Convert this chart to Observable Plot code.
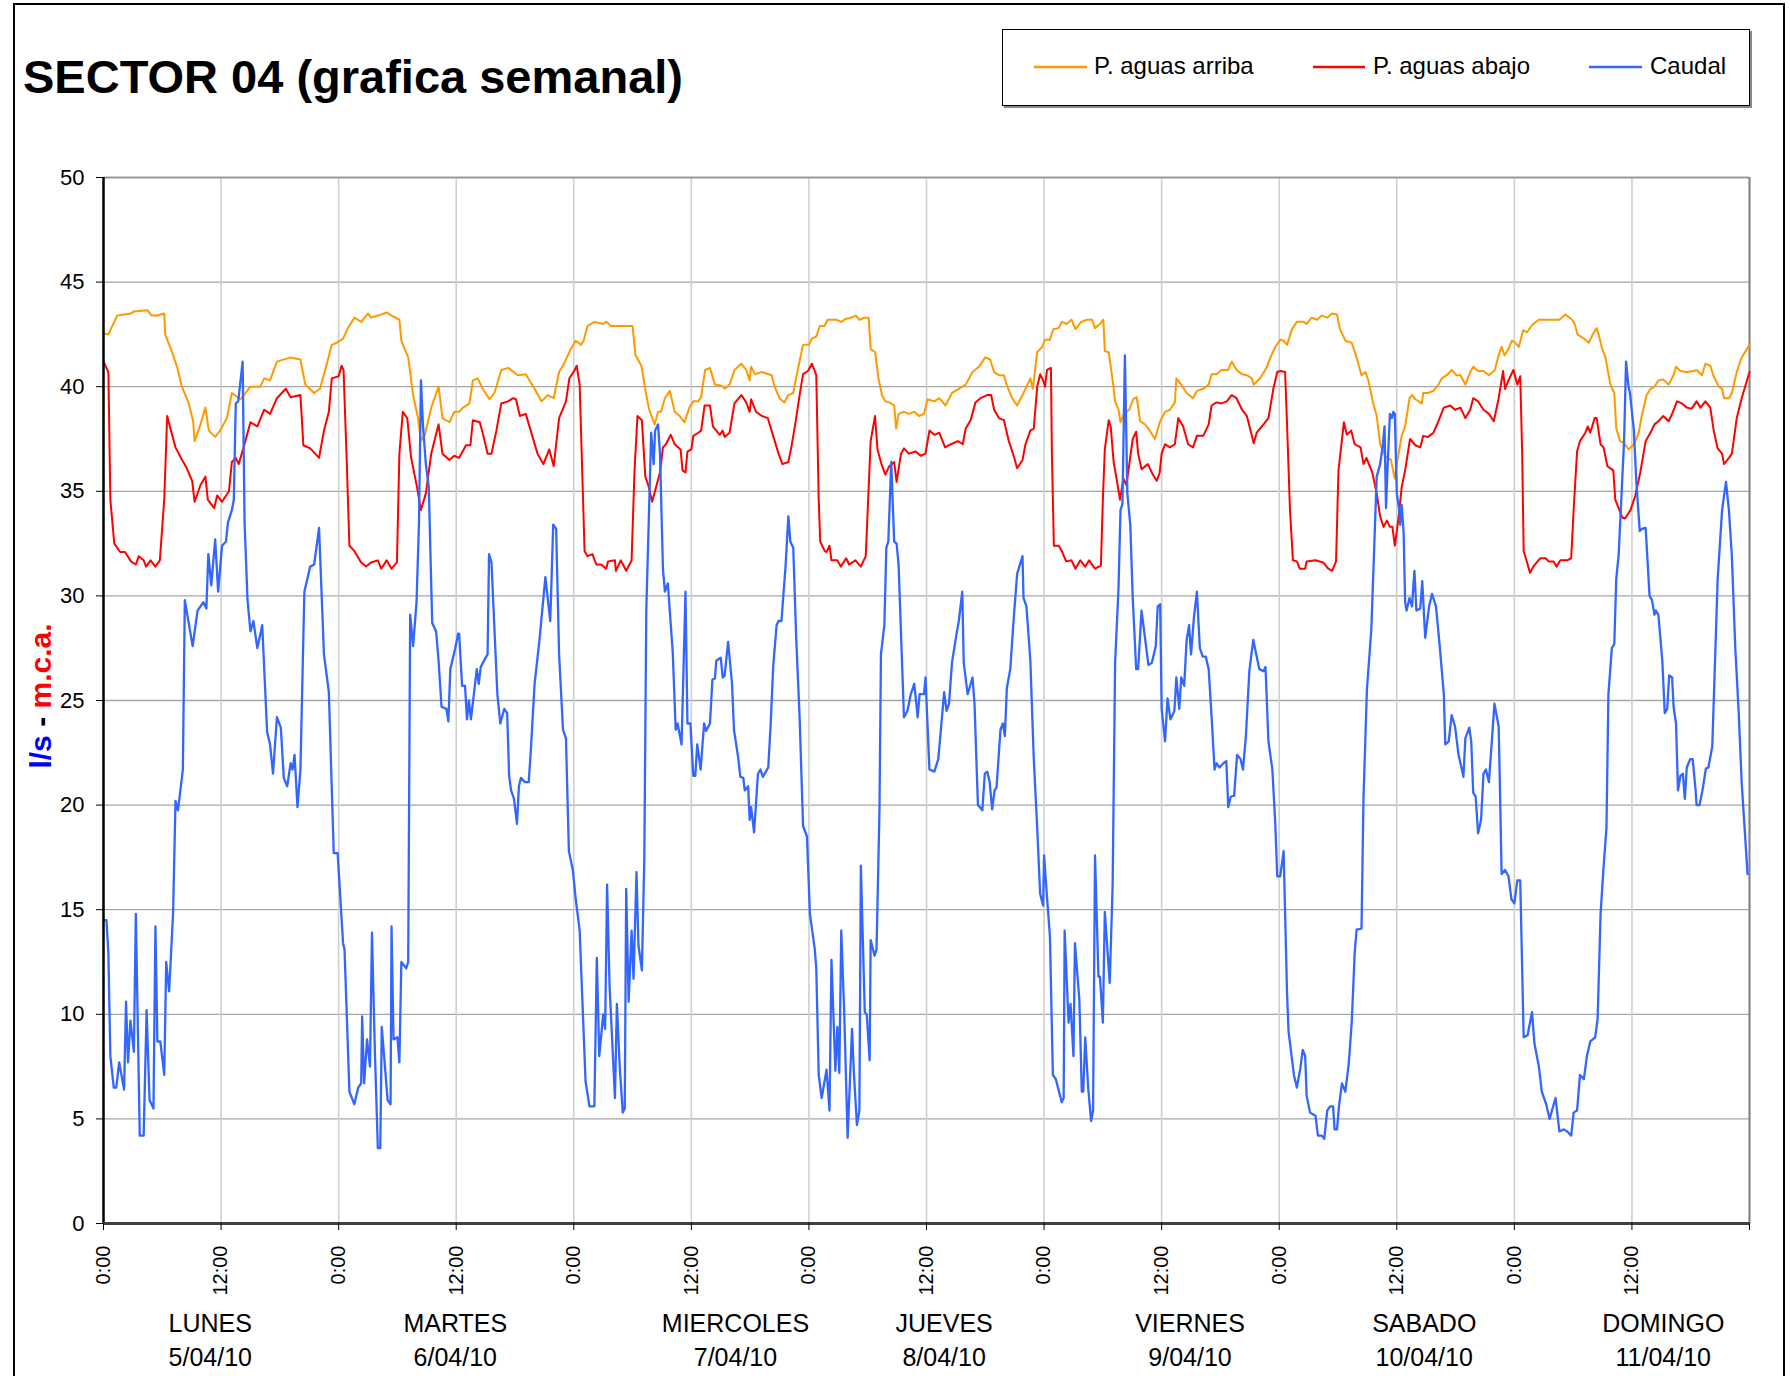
<!DOCTYPE html>
<html><head><meta charset="utf-8">
<script src="https://cdn.jsdelivr.net/npm/d3@7"></script>
<script src="https://cdn.jsdelivr.net/npm/@observablehq/plot@0.6"></script>
<style>
body{margin:0;background:#fff;}
#wrap{position:relative;width:1790px;height:1376px;overflow:hidden;background:#fff;}
#wrap svg{position:absolute;left:0;top:0;}
</style>
</head><body><div id="wrap"></div>
<script>
// ---- data: [hour since Mon 0:00, value] ----
const pAguasArriba = [[0,42.55],[0.5,42.5],[1.4,43.4],[2.8,43.5],[3.1,43.6],[4.5,43.65],[4.9,43.4],[5.5,43.4],[6.2,43.5],[6.3,42.5],[7,41.65],[7.5,40.96],[8,40.0],[8.7,39.2],[9.15,38.35],[9.3,37.4],[9.9,38.2],[10.4,39.0],[10.75,37.9],[11.4,37.6],[11.9,37.9],[12.6,38.5],[13.1,39.7],[14,39.4],[15,40.0],[16,40.0],[16.4,40.4],[17,40.3],[17.7,41.2],[19.1,41.4],[20.1,41.3],[20.6,40.1],[21.5,39.7],[22.1,39.9],[22.8,41.1],[23.3,42.0],
[23.8,42.1],[24.45,42.3],[24.95,42.8],[25.6,43.3],[26.3,43.1],[27,43.5],[27.3,43.3],[28,43.4],[28.9,43.55],[29.4,43.4],[30.2,43.2],[30.4,42.2],[31.1,41.4],[31.6,39.6],[32.1,38.5],[32.4,37.4],[32.8,37.7],[33.45,39.0],[34.2,40.0],[34.6,38.5],[35.3,38.3],[35.8,38.8],[36.3,38.8],[36.7,39.0],[37.35,39.2],[37.7,40.3],[38.2,40.4],[38.7,39.9],[39.4,39.4],[39.9,39.7],[40.6,40.8],[41.3,40.9],[42.3,40.55],[43.1,40.6],[44,39.9],[44.7,39.3],[45.35,39.6],[45.95,39.45],[46.5,40.7],[47,41.1],[47.7,41.8],
[48.2,42.2],[48.75,42.0],[49,42.2],[49.4,42.9],[50.1,43.1],[51,43.0],[51.3,43.1],[51.8,42.9],[53.5,42.9],[54,42.9],[54.3,41.5],[54.9,41.0],[55.4,39.6],[55.7,38.9],[56.25,38.2],[56.6,38.8],[56.9,38.8],[57.3,39.45],[57.8,39.8],[58.3,38.8],[58.8,38.6],[59.3,38.3],[59.8,39.0],[60.2,39.3],[60.7,39.3],[61,39.5],[61.4,40.8],[61.9,40.9],[62.4,40.1],[63.1,40.05],[63.4,39.9],[63.9,40.1],[64.4,40.8],[65.1,41.1],[65.6,40.8],[65.95,40.3],[66.1,40.95],[66.5,40.6],[67.2,40.7],[68.2,40.55],[68.5,40.0],[69,39.45],[69.5,39.25],[69.9,39.6],[70.4,39.7],
[70.9,40.9],[71.4,42.0],[72,42.0],[72.3,42.3],[72.75,42.4],[73.1,42.9],[73.6,42.9],[73.9,43.2],[74.8,43.2],[75.3,43.1],[75.8,43.25],[76.3,43.3],[76.8,43.4],[77.15,43.2],[77.65,43.3],[78.1,43.3],[78.3,41.8],[78.75,41.65],[79.1,40.4],[79.45,39.6],[79.8,39.3],[80.2,39.25],[80.7,39.1],[80.9,38.0],[81.15,38.7],[81.7,38.8],[82.2,38.7],[82.75,38.8],[83.25,38.6],[83.75,38.7],[84.1,39.4],[84.8,39.3],[85.3,39.45],[85.95,39.1],[86.6,39.7],[87.3,39.9],[88,40.1],[88.7,40.7],[89.35,40.95],[90,41.4],[90.5,41.3],[90.9,40.7],[91.4,40.55],[91.9,40.55],[92.25,40.0],[92.75,39.45],[93.25,39.1],[93.8,39.6],[94.3,40.1],[94.6,40.4],[94.85,39.9],[95.3,41.65],[95.8,41.9],
[96.1,42.25],[96.6,42.25],[96.95,42.75],[97.5,42.8],[97.8,43.1],[98.3,43.0],[98.8,43.2],[99.2,42.75],[99.8,43.1],[100.35,43.2],[100.9,43.2],[101.2,42.8],[101.7,43.0],[102.05,43.2],[102.2,41.7],[102.6,41.65],[103,40.3],[103.25,39.3],[103.6,38.9],[103.8,38.3],[104.15,38.7],[104.7,38.9],[105.1,39.4],[105.45,39.5],[105.8,38.35],[106.3,38.2],[106.8,37.9],[107.3,37.5],[107.85,38.35],[108.35,38.8],[108.85,38.9],[109.35,39.25],[109.5,40.4],[110,40.1],[110.55,39.7],[111.2,39.45],[111.6,39.8],[112.25,39.9],[112.8,40.1],[113.1,40.6],[113.6,40.6],[114.1,40.8],[114.8,40.8],[115.15,41.2],[115.65,40.8],[116.2,40.6],[116.7,40.55],[117.2,40.4],[117.4,40.1],[118.05,40.4],[118.7,40.9],
[119.1,41.4],[119.6,41.9],[120.1,42.25],[120.45,42.2],[120.8,42.0],[121.3,42.75],[121.8,43.1],[122.5,43.1],[122.8,43.0],[123.3,43.3],[123.85,43.2],[124.35,43.4],[124.9,43.3],[125.4,43.5],[125.9,43.45],[126.2,42.75],[126.75,42.2],[127.4,42.1],[127.9,41.4],[128.4,40.55],[128.8,40.7],[129.1,40.3],[129.6,39.2],[129.95,38.6],[130.3,37.25],[130.8,36.7],[131.4,36.5],[131.8,35.6],[132,36.3],[132.5,37.65],[132.85,38.1],[133.3,39.45],[133.55,39.6],[133.9,39.4],[134.55,39.2],[134.7,39.7],[135.2,39.7],[135.75,39.8],[136.25,40.1],[136.6,40.4],[137.1,40.55],[137.6,40.8],[138.1,40.55],[138.5,40.55],[139,40.1],[139.5,40.7],[139.8,40.95],[140.3,40.75],[140.85,40.75],[141.4,40.55],[142,40.8],[142.4,41.5],[142.7,41.9],[143,41.5],[143.4,41.8],
[143.75,42.2],[144.1,42.1],[144.45,41.9],[144.9,42.7],[145.3,42.6],[145.8,42.95],[146.5,43.2],[147.2,43.2],[147.7,43.2],[148.2,43.2],[148.6,43.2],[149.2,43.45],[149.9,43.2],[150.2,42.95],[150.45,42.5],[151.1,42.3],[151.6,42.1],[152,42.5],[152.4,42.8],[152.6,42.5],[152.95,41.85],[153.3,41.4],[153.8,40.1],[154.2,39.7],[154.4,38.0],[154.8,37.4],[155.2,37.3],[155.65,37.0],[156.2,37.25],[156.7,37.8],[157,38.6],[157.5,39.6],[157.9,39.9],[158.3,40.0],[158.7,40.3],[159.2,40.35],[159.75,40.1],[160.25,40.55],[160.5,40.95],[160.95,40.75],[161.6,40.7],[162.3,40.75],[162.6,40.8],[163.15,40.55],[163.5,41.1],[164,41.0],[164.3,40.55],[164.85,40.0],[165.2,39.9],[165.4,39.45],[165.9,39.45],[166.2,39.7],[166.7,40.7],[167.2,41.4],[168,42.0]];

const pAguasAbajo = [[0,41.2],[0.5,40.7],[0.7,34.6],[1.1,32.5],[1.7,32.1],[2.2,32.1],[2.8,31.65],[3.3,31.5],[3.6,31.9],[4.1,31.7],[4.35,31.4],[4.8,31.7],[5.3,31.4],[5.75,31.7],[6.2,34.6],[6.5,38.6],[7,37.7],[7.35,37.1],[7.9,36.6],[8.5,36.1],[9.05,35.5],[9.3,34.5],[9.9,35.3],[10.4,35.7],[10.65,34.6],[11.3,34.2],[11.6,34.8],[12.1,34.5],[12.8,35.0],[13.1,36.4],[13.5,36.6],[13.8,36.3],[14.3,37.1],[15,38.3],[15.7,38.1],[16.4,38.9],[17,38.7],[17.7,39.45],[18.6,39.9],[19.1,39.5],[20.1,39.6],[20.4,37.2],[21.1,37.05],[22,36.6],[22.5,37.9],[23,38.8],[23.3,40.4],[24,40.5],[24.3,41.0],[24.5,40.8],[24.8,36.8],[25.1,32.4],
[25.6,32.15],[26.3,31.6],[26.8,31.4],[27.3,31.6],[28,31.7],[28.35,31.3],[28.9,31.7],[29.4,31.3],[29.95,31.6],[30.2,36.8],[30.55,38.8],[31,38.5],[31.4,36.6],[32,35.2],[32.4,34.1],[32.9,34.9],[33.45,36.8],[34.2,38.2],[34.6,36.8],[35.3,36.5],[35.8,36.7],[36.3,36.6],[37,37.2],[37.45,37.2],[37.7,38.4],[38.4,38.3],[38.7,37.8],[39.2,36.8],[39.6,36.8],[40.1,37.9],[40.6,39.2],[41.3,39.3],[41.8,39.45],[42.1,39.4],[42.5,38.6],[43.1,38.7],[43.6,37.9],[44.3,36.8],[44.9,36.3],[45.5,37.0],[45.95,36.2],[46.5,38.5],[47.2,39.3],[47.55,40.4],
[48.1,40.8],[48.3,41.0],[48.6,40.1],[49.1,32.15],[49.4,31.9],[49.9,32.0],[50.3,31.5],[50.8,31.5],[51.3,31.3],[51.5,31.65],[52.2,31.7],[52.3,31.2],[52.8,31.7],[53.35,31.2],[53.9,31.7],[54.2,36.0],[54.5,38.6],[54.95,38.4],[55.3,35.7],[55.6,35.3],[56,34.5],[56.4,35.2],[56.8,35.9],[57.1,37.1],[57.4,37.25],[57.9,37.7],[58.3,37.25],[58.9,37.0],[59.1,36.0],[59.4,35.9],[59.6,36.9],[60,37.0],[60.2,37.65],[60.7,37.8],[61,37.9],[61.35,39.1],[61.9,39.1],[62.2,38.1],[62.9,37.7],[63.2,37.9],[63.4,37.6],[63.9,37.8],[64.4,39.2],[65.1,39.6],[65.6,39.25],[65.95,38.8],[66.1,39.4],[66.6,38.8],[67.2,38.6],[67.8,38.5],[68.35,37.65],[68.9,36.8],[69.3,36.3],[69.9,36.4],[70.2,37.1],[70.6,38.2],
[71.05,39.6],[71.4,40.6],[71.9,40.75],[72.3,41.1],[72.75,40.55],[73,34.6],[73.15,32.6],[73.6,32.15],[73.8,32.1],[74.1,32.4],[74.3,31.7],[74.9,31.7],[75.25,31.4],[75.8,31.8],[76.1,31.5],[76.75,31.7],[77.3,31.4],[77.8,31.9],[78.1,35.2],[78.3,37.4],[78.75,38.6],[79,37.0],[79.4,36.3],[79.8,35.8],[80.2,36.2],[80.7,36.4],[80.95,35.45],[81.4,36.8],[81.7,37.05],[82.2,36.8],[82.9,36.9],[83.4,36.7],[83.9,36.8],[84.3,37.9],[84.8,37.7],[85.3,37.8],[85.9,37.1],[86.5,37.25],[87.2,37.4],[87.7,37.25],[88,38.0],[88.5,38.4],[89,39.25],[89.5,39.45],[90.2,39.6],[90.6,39.6],[90.9,38.9],[91.4,38.5],[91.9,38.4],[92.4,37.4],[92.9,36.7],[93.25,36.1],[93.8,36.5],[94.1,37.25],[94.6,37.9],[94.95,38.0],[95.3,40.0],[95.6,40.6],
[95.9,40.3],[96.1,40.0],[96.3,40.8],[96.7,40.9],[96.8,36.8],[97,32.4],[97.5,32.4],[97.8,32.15],[98.25,31.65],[98.8,31.7],[99.2,31.3],[99.7,31.7],[100.2,31.4],[100.6,31.7],[101.2,31.3],[101.8,31.45],[102,34.6],[102.2,37.0],[102.6,38.4],[102.8,38.1],[103.1,36.4],[103.4,35.6],[103.75,34.6],[104.1,35.6],[104.4,35.3],[104.7,36.3],[105.05,37.5],[105.4,37.85],[105.6,36.8],[105.95,36.05],[106.6,36.3],[107.1,35.8],[107.5,35.5],[107.8,35.9],[108,36.8],[108.35,37.25],[108.85,37.1],[109.35,37.25],[109.7,38.5],[110.2,38.1],[110.7,37.25],[111.2,37.1],[111.6,37.65],[112.25,37.65],[112.8,38.2],[113.1,39.1],[113.6,39.25],[114.1,39.2],[114.65,39.3],[115.15,39.6],[115.65,39.45],[116.2,38.9],[116.7,38.6],[117.4,37.3],[117.7,37.8],[118.4,38.2],[118.9,38.5],
[119.4,39.9],[119.8,40.7],[120.1,40.75],[120.6,40.7],[120.8,38.2],[121.1,34.1],[121.4,31.7],[121.8,31.65],[122.1,31.3],[122.65,31.3],[122.8,31.65],[123.7,31.7],[124.5,31.6],[125,31.3],[125.4,31.2],[125.8,31.65],[126.05,36.0],[126.6,38.3],[126.9,37.7],[127.35,37.9],[127.7,37.25],[128.3,37.1],[128.6,36.3],[128.9,36.6],[129.5,35.9],[129.95,34.9],[130.3,33.8],[130.65,33.3],[131,33.6],[131.3,33.3],[131.55,33.3],[131.8,32.4],[132.2,33.8],[132.5,35.2],[132.85,36.0],[133.35,37.5],[133.9,37.2],[134.4,37.1],[134.7,37.65],[135.2,37.6],[135.75,37.8],[136.25,38.35],[136.8,39.0],[137.45,39.1],[137.95,38.9],[138.5,39.0],[139,38.5],[139.5,38.9],[139.8,39.45],[140.3,39.3],[140.85,38.9],[141.4,38.7],[141.9,38.35],[142.4,39.45],[142.85,40.75],[143.05,39.9],[143.4,40.3],
[143.9,40.8],[144.3,40.1],[144.6,40.5],[144.8,36.8],[144.95,32.15],[145.3,31.6],[145.6,31.1],[146,31.45],[146.65,31.8],[147.2,31.8],[147.5,31.65],[148,31.65],[148.3,31.4],[148.7,31.7],[149.4,31.7],[149.8,31.8],[150.05,34.1],[150.4,36.9],[150.7,37.4],[151.25,37.8],[151.5,38.1],[151.75,37.8],[152.2,38.5],[152.4,38.5],[152.8,37.25],[153.1,37.1],[153.5,36.2],[154.1,36.0],[154.3,34.6],[154.65,34.2],[155,33.75],[155.3,33.7],[155.85,34.1],[156.35,34.8],[156.85,35.9],[157.4,37.4],[157.9,37.8],[158.3,38.2],[158.7,38.35],[159.2,38.6],[159.75,38.35],[160.1,38.7],[160.6,39.3],[161.1,39.2],[161.6,39.0],[162.1,38.95],[162.6,39.3],[163,39.0],[163.5,39.3],[164,39.0],[164.35,37.9],[164.75,37.05],[165.2,36.8],[165.4,36.3],[165.9,36.6],[166.2,36.8],[166.7,38.5],[167.2,39.45],[168,40.7]];

const caudal = [[0,14.5],[0.3,14.5],[0.5,12.9],[0.7,8.0],[1.05,6.5],[1.3,6.5],[1.6,7.7],[2.1,6.4],[2.3,10.6],[2.5,7.7],[2.75,9.7],[3.1,8.2],[3.3,14.8],[3.7,4.2],[4.1,4.2],[4.4,10.2],[4.7,5.9],[5.1,5.5],[5.3,14.2],[5.5,8.7],[5.8,8.7],[6.2,7.1],[6.4,12.5],[6.7,11.1],[7.1,14.8],[7.35,20.2],[7.6,19.75],[8.1,21.7],[8.3,29.8],[9.1,27.6],[9.6,29.3],[10.2,29.7],[10.5,29.4],[10.7,32.0],[11,30.5],[11.4,32.7],[11.7,30.2],[12.1,32.4],[12.5,32.6],[12.7,33.5],[13.1,34.1],[13.3,34.6],[13.5,39.2],[13.75,39.3],[14.2,41.2],[14.4,33.5],[14.7,29.8],[15,28.3],[15.3,28.8],[15.7,27.5],[16.2,28.6],[16.7,23.5],[17,22.9],[17.3,21.5],[17.7,24.2],[18.1,23.7],[18.4,21.3],[18.75,20.9],[19.1,22.0],[19.3,21.7],[19.5,22.4],[19.8,19.9],[20.1,21.7],[20.5,30.2],[21.1,31.4],[21.5,31.5],[22,33.25],[22.5,27.2],[23,25.4],[23.5,17.7],[23.9,17.7],[24.45,13.4],[24.6,13.1],[25.1,6.3],
[25.6,5.7],[26,6.5],[26.3,6.7],[26.4,9.9],[26.6,6.7],[26.9,8.8],[27.2,7.5],[27.4,13.9],[27.7,8.2],[28,3.6],[28.25,3.6],[28.4,9.4],[29,5.9],[29.3,5.7],[29.4,14.2],[29.6,8.8],[30,8.9],[30.2,7.7],[30.4,12.5],[30.9,12.2],[31.1,12.5],[31.3,29.1],[31.6,27.6],[31.95,29.7],[32.2,33.5],[32.4,40.3],[32.6,38.2],[32.9,36.3],[33.2,35.2],[33.55,28.7],[33.95,28.3],[34.2,26.9],[34.5,24.7],[35,24.6],[35.2,24.0],[35.4,26.5],[35.9,27.5],[36.2,28.2],[36.3,28.2],[36.6,25.7],[36.9,25.7],[37.1,24.1],[37.3,25.0],[37.5,24.1],[38.1,26.5],[38.3,25.8],[38.5,26.6],[39,27.05],[39.2,27.2],[39.35,32.0],[39.6,31.6],[40.2,25.3],[40.5,23.9],[40.9,24.6],[41.2,24.4],[41.4,21.4],[41.6,20.7],[41.9,20.3],[42.2,19.1],[42.4,20.9],[42.6,21.3],[43,21.1],[43.4,21.1],[43.6,22.5],[44,25.8],[44.5,27.9],[45.1,30.9],[45.6,28.8],[45.9,33.4],[46.2,33.2],[46.5,27.2],[46.9,23.6],[47.2,23.2],[47.5,17.8],[47.9,16.9],[48.2,15.5],
[48.6,14.0],[49.2,6.8],[49.6,5.6],[50.1,5.6],[50.35,12.7],[50.6,8.0],[51,10.0],[51.2,9.3],[51.4,16.2],[51.65,11.4],[52.2,6.0],[52.4,10.5],[52.7,7.4],[53,5.3],[53.2,5.5],[53.35,16.0],[53.6,10.6],[53.9,14.0],[54.1,11.7],[54.4,16.8],[54.6,13.3],[54.95,12.1],[55.2,17.5],[55.4,29.3],[55.7,34.4],[55.9,37.8],[56.15,36.3],[56.3,37.9],[56.6,38.2],[56.8,36.8],[57.1,31.3],[57.3,30.2],[57.6,30.6],[58.1,27.3],[58.4,23.6],[58.6,23.9],[59,22.9],[59.4,30.2],[59.6,23.9],[59.9,23.9],[60.2,21.4],[60.4,21.4],[60.6,22.9],[60.95,21.7],[61.3,23.9],[61.5,23.55],[61.9,23.9],[62.15,26.0],[62.4,26.05],[62.55,26.9],[63,27.05],[63.2,26.1],[63.4,26.2],[63.75,27.8],[64.15,25.8],[64.35,23.6],[64.8,22.2],[65,21.35],[65.3,21.3],[65.45,20.7],[65.8,20.9],[65.95,19.3],[66.1,19.9],[66.4,18.7],[66.8,21.5],[67.05,21.7],[67.3,21.35],[67.85,21.8],[68.1,23.9],[68.35,26.6],[68.7,28.6],[68.9,28.8],[69.2,28.8],[69.4,30.1],[69.6,31.3],[69.9,33.8],[70.1,32.6],[70.4,32.3],[70.7,28.0],
[71.05,24.2],[71.4,19.0],[71.8,18.5],[72.1,14.8],[72.6,13.1],[72.75,12.2],[73,7.1],[73.3,6.0],[73.8,7.35],[74.1,5.4],[74.3,12.6],[74.7,7.3],[74.9,9.4],[75.1,7.2],[75.3,14.0],[75.6,10.1],[75.95,4.1],[76.4,9.3],[76.6,7.1],[76.9,4.7],[77.15,5.4],[77.3,17.1],[77.7,10.1],[77.9,10.0],[78.2,7.8],[78.3,13.55],[78.7,12.8],[78.9,13.1],[79.2,19.75],[79.35,27.2],[79.7,28.6],[79.9,32.3],[80.1,32.6],[80.4,36.4],[80.7,32.6],[80.95,32.5],[81.15,31.5],[81.7,24.2],[82.05,24.5],[82.4,25.3],[82.75,25.8],[83.1,24.2],[83.3,25.3],[83.75,25.3],[83.9,26.1],[84.3,21.7],[84.8,21.6],[85.2,22.2],[85.45,23.5],[85.8,25.4],[86.05,24.5],[86.3,24.85],[86.6,26.8],[87.05,28.15],[87.3,28.8],[87.65,30.2],[87.8,26.8],[88.2,25.3],[88.7,26.1],[88.9,24.85],[89.25,20.0],[89.7,19.75],[89.95,21.5],[90.2,21.6],[90.45,21.1],[90.7,19.8],[90.95,20.7],[91.15,20.85],[91.55,23.6],[91.8,23.9],[92,23.3],[92.2,25.6],[92.55,26.5],[92.9,28.9],[93.25,31.05],[93.8,31.9],[93.9,29.9],[94.2,29.5],[94.6,26.9],[94.95,22.2],[95.3,18.9],[95.6,15.75],[95.9,15.2],[96,17.6],
[96.3,15.6],[96.6,13.7],[96.9,7.1],[97.2,6.9],[97.8,5.8],[98,6.0],[98.1,14.0],[98.5,9.6],[98.7,10.5],[99,8.0],[99.15,13.4],[99.6,10.7],[99.85,6.3],[100,6.3],[100.2,8.9],[100.5,6.5],[100.8,4.9],[101,5.4],[101.2,17.6],[101.55,11.8],[101.7,11.8],[102,9.6],[102.2,14.9],[102.7,11.5],[103,16.2],[103.25,26.8],[103.6,30.4],[103.8,34.1],[104,34.4],[104.25,41.5],[104.5,34.9],[104.8,33.4],[105.05,29.9],[105.4,26.5],[105.6,26.5],[105.95,29.3],[106.3,28.0],[106.65,26.7],[107,26.8],[107.4,27.6],[107.6,29.5],[107.85,29.6],[108,24.6],[108.35,23.05],[108.6,25.1],[108.9,24.1],[109.3,24.5],[109.5,26.1],[109.8,24.6],[110,26.1],[110.3,25.7],[110.55,27.9],[110.8,28.6],[111,27.2],[111.3,29.0],[111.6,30.2],[111.9,27.5],[112.2,27.1],[112.5,27.1],[112.8,26.5],[113.1,24.2],[113.4,21.7],[113.6,22.0],[113.9,21.8],[114.3,22.0],[114.6,22.1],[114.8,19.9],[115.05,20.4],[115.4,20.45],[115.7,22.4],[116.05,22.2],[116.3,21.7],[116.6,23.3],[116.95,26.4],[117.35,27.9],[117.7,27.1],[117.97,26.5],[118.4,26.4],[118.6,26.6],[118.9,23.05],[119.3,21.7],[119.6,19.1],[119.8,16.6],
[120.1,16.6],[120.45,17.8],[120.8,11.0],[120.95,9.2],[121.5,7.1],[121.8,6.5],[122.15,7.4],[122.4,8.3],[122.65,8.0],[122.8,6.1],[123.15,5.3],[123.7,5.15],[123.95,4.2],[124.35,4.2],[124.6,4.05],[124.9,5.4],[125.2,5.6],[125.5,5.6],[125.65,4.5],[125.9,4.5],[126.1,5.6],[126.4,6.7],[126.75,6.3],[127.1,7.65],[127.4,9.6],[127.7,12.9],[127.9,14.05],[128.4,14.1],[128.6,20.3],[128.95,25.5],[129.4,28.4],[129.6,31.05],[129.95,35.7],[130.3,36.3],[130.55,37.1],[130.75,38.1],[130.9,34.2],[131.1,36.6],[131.3,38.7],[131.5,38.5],[131.65,38.8],[131.8,38.7],[132,34.9],[132.25,34.1],[132.35,33.4],[132.5,34.35],[132.7,33.0],[132.85,29.7],[133,29.3],[133.3,29.9],[133.55,29.5],[133.8,31.2],[134,29.3],[134.4,29.4],[134.6,30.7],[134.9,28.0],[135.3,29.5],[135.6,30.1],[136,29.5],[136.4,27.5],[136.8,25.3],[136.95,22.9],[137.3,23.05],[137.6,24.3],[137.95,23.75],[138.3,22.4],[138.6,21.8],[138.8,21.35],[139,23.2],[139.4,23.7],[139.6,23.05],[139.8,20.6],[140.05,20.4],[140.3,18.65],[140.6,19.3],[140.85,21.5],[141.1,21.7],[141.4,21.1],[141.7,23.05],[141.97,24.85],[142.4,23.75],[142.55,20.3],[142.7,16.7],[143.05,16.9],[143.4,16.6],[143.7,15.5],
[144,15.3],[144.3,16.4],[144.6,16.4],[144.95,8.9],[145.35,9.0],[145.8,10.1],[146.05,8.6],[146.5,7.5],[146.8,6.3],[147.25,5.7],[147.6,5.0],[148.2,6.0],[148.6,4.4],[149.05,4.5],[149.4,4.4],[149.8,4.2],[150.05,5.3],[150.4,5.4],[150.7,7.1],[151.1,6.9],[151.4,8.0],[151.75,8.7],[152.25,8.9],[152.5,9.8],[152.8,14.8],[153.1,17.0],[153.4,18.9],[153.6,25.3],[153.95,27.5],[154.2,27.7],[154.4,30.8],[154.65,32.0],[155,35.45],[155.2,37.4],[155.4,41.2],[155.65,40.0],[155.8,39.7],[156.2,37.9],[156.45,35.45],[156.8,33.1],[157,33.2],[157.4,33.25],[157.8,30.0],[158.05,29.8],[158.3,29.1],[158.45,29.3],[158.7,29.1],[159.1,26.9],[159.35,24.4],[159.6,24.6],[159.8,26.2],[160.1,26.1],[160.25,24.7],[160.5,23.9],[160.7,20.7],[160.95,21.4],[161.2,21.5],[161.4,20.3],[161.6,21.8],[161.95,22.2],[162.2,22.2],[162.5,20.7],[162.6,20.0],[162.9,20.0],[163.2,20.7],[163.55,21.75],[163.8,21.8],[164.2,22.8],[164.4,25.7],[164.75,30.8],[165.2,34.1],[165.6,35.45],[165.9,34.1],[166.2,31.9],[166.55,27.5],[166.9,24.4],[167.2,21.1],[167.8,16.7]];

const seriesNames = ["P. aguas arriba", "P. aguas abajo", "Caudal"];
const seriesColors = ["#ff9900", "#ff0000", "#3366ff"];
const yTicks = [0,5,10,15,20,25,30,35,40,45,50];
const xTicks = [0,12,24,36,48,60,72,84,96,108,120,132,144,156,168];
const xTickLabels = ["0:00","12:00","0:00","12:00","0:00","12:00","0:00","12:00","0:00","12:00","0:00","12:00","0:00","12:00",""];
const dayNames = ["LUNES","MARTES","MIERCOLES","JUEVES","VIERNES","SABADO","DOMINGO"];
const dayDates = ["5/04/10","6/04/10","7/04/10","8/04/10","9/04/10","10/04/10","11/04/10"];
const dayLabelHour = [10.9, 35.9, 64.5, 85.8, 110.9, 134.8, 159.2];
const titleText = "SECTOR 04 (grafica semanal)";

const toRows = arr => arr.map(([h, v]) => ({h, v}));
const font = "'Liberation Sans', Arial, Helvetica, sans-serif";

const chart = Plot.plot({
  width: 1790, height: 1376,
  marginLeft: 103, marginRight: 41, marginTop: 177, marginBottom: 153,
  style: {fontFamily: font, background: "transparent", overflow: "visible", color: "#000"},
  x: {domain: [0, 168]},
  y: {domain: [0, 50]},
  marks: [
    Plot.gridY(yTicks, {stroke: "#a6a6a6", strokeOpacity: 1, strokeWidth: 1.3}),
    Plot.gridX(xTicks, {stroke: "#cfcfcf", strokeOpacity: 1, strokeWidth: 1.6}),
    Plot.ruleY([50], {stroke: "#909090", strokeWidth: 1.5}),
    Plot.ruleX([168], {stroke: "#808080", strokeWidth: 2}),
    Plot.line(toRows(pAguasArriba), {x: "h", y: "v", stroke: seriesColors[0], strokeWidth: 2}),
    Plot.line(toRows(pAguasAbajo), {x: "h", y: "v", stroke: seriesColors[1], strokeWidth: 2}),
    Plot.line(toRows(caudal), {x: "h", y: "v", stroke: seriesColors[2], strokeWidth: 2.3}),
    Plot.ruleX([0], {stroke: "#000", strokeWidth: 2.5}),
    Plot.ruleY([0], {stroke: "#404040", strokeWidth: 3}),
    Plot.axisY(yTicks, {tickSize: 7, tickPadding: 12, fontSize: 22, label: null, tickFormat: d => String(d)}),
    Plot.axisX(xTicks, {tickSize: 7, tickPadding: 15, fontSize: 20, tickRotate: -90, label: null,
      tickFormat: (d) => xTickLabels[xTicks.indexOf(d)]}),
    Plot.text(dayNames.map((n, i) => ({h: dayLabelHour[i], t: n + "\n" + dayDates[i]})), {
      x: "h", y: () => 0, text: "t", dy: 84, lineAnchor: "top", lineHeight: 1.38,
      fontSize: 25, fill: "#000"})
  ]
});
document.getElementById("wrap").appendChild(chart);

// ---- overlay: border, title, legend, y-axis title ----
const ov = d3.select("#wrap").append("svg")
  .attr("width", 1790).attr("height", 1376)
  .style("font-family", font).style("pointer-events", "none");
ov.append("rect").attr("x", 14).attr("y", 4).attr("width", 1770).attr("height", 1500)
  .attr("fill", "none").attr("stroke", "#000").attr("stroke-width", 2);
ov.append("text").attr("x", 23).attr("y", 93).attr("font-size", 47).attr("font-weight", "bold")
  .attr("fill", "#000").text(titleText);

// legend box
ov.append("rect").attr("x", 1004).attr("y", 31).attr("width", 748).attr("height", 77).attr("fill", "#888");
ov.append("rect").attr("x", 1002.5).attr("y", 29.5).attr("width", 747).attr("height", 76)
  .attr("fill", "#fff").attr("stroke", "#000").attr("stroke-width", 1);
const legX = [[1034, 1087, 1094], [1313, 1365, 1373], [1589, 1642, 1650]];
seriesNames.forEach((n, i) => {
  ov.append("line").attr("x1", legX[i][0]).attr("x2", legX[i][1]).attr("y1", 67).attr("y2", 67)
    .attr("stroke", seriesColors[i]).attr("stroke-width", 2.5);
  ov.append("text").attr("x", legX[i][2]).attr("y", 74).attr("font-size", 24).attr("fill", "#000").text(n);
});

// y-axis title
const yt = ov.append("text").attr("transform", "translate(51,696) rotate(-90)")
  .attr("text-anchor", "middle").attr("font-size", 30).attr("font-weight", "bold");
yt.append("tspan").attr("fill", "#0000ff").text("l/s");
yt.append("tspan").attr("fill", "#000").text(" - ");
yt.append("tspan").attr("fill", "#ff0000").text("m.c.a.");
</script>
</body></html>
